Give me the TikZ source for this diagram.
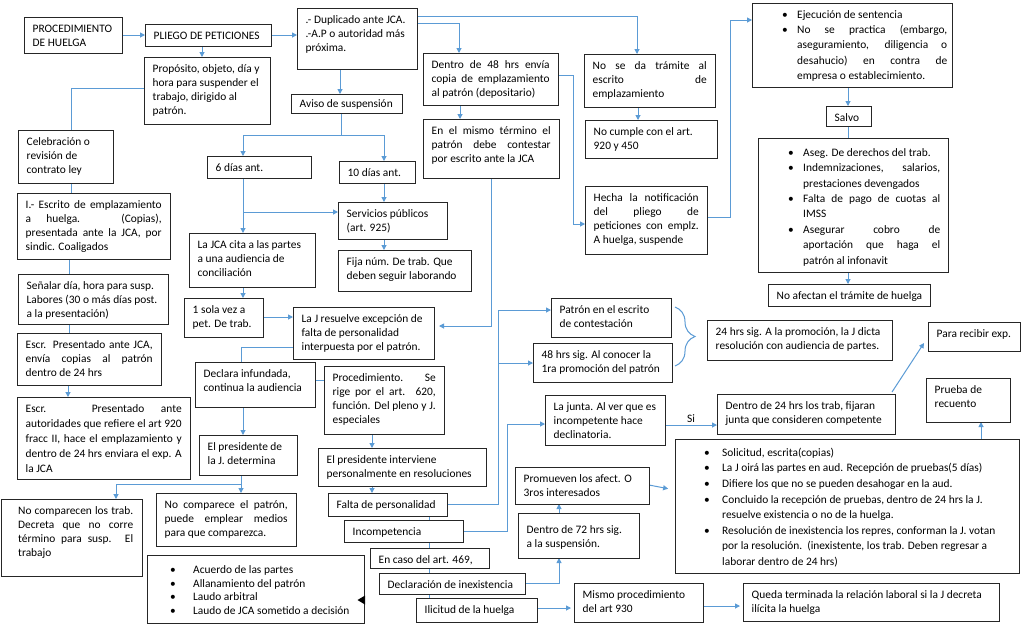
\documentclass[tikz,border=0pt]{standalone}
\usepackage{fontspec}
\setmainfont{Carlito}
\usetikzlibrary{arrows.meta,fit,calc,decorations.pathreplacing}
\definecolor{lnc}{HTML}{5B9BD5}
\definecolor{bxc}{HTML}{262626}
\pgfdeclarelayer{bg}
\pgfsetlayers{bg,main}
\newcommand\jus[1]{\makebox[\tw pt][s]{#1}}
\newcommand\blt{\makebox[15pt][l]{•}}
\newcommand\bxx[7][]{%
  \node[bxs,fit={(#3,#4)(#5,#6)}] (#2) {};
  \pgfmathsetmacro\tw{#5-#3-17}%
  \node[txs,#1] at (#3,#4) {\rule{0pt}{11pt}#7};}
\begin{document}
\begin{tikzpicture}[x=1pt,y=-1pt,
  bxs/.style={draw=bxc,line width=1pt,fill=white,inner sep=0pt,outer sep=0pt,rectangle},
  txs/.style={anchor=north west,inner xsep=8.5pt,inner ysep=4pt,align=left,text=black,font=\fontsize{11.4}{14.2}\selectfont},
  ln/.style={draw=lnc,line width=1pt},
  arr/.style={ln,-{Triangle[length=5pt,width=5pt]}},
  tw/.code={\def\tw{#1}}]
\useasboundingbox (0,0) rectangle (1024,625);
\begin{pgfonlayer}{bg}
\fill[white] (0,0) rectangle (1024,625);
\end{pgfonlayer}

% ---------------- boxes ----------------
\bxx{proc}{24}{17}{122}{53}{PROCEDIMIENTO\\DE HUELGA}
\bxx{pliego}{145}{24}{271}{46}{PLIEGO DE PETICIONES}
\bxx{prop}{144}{57}{270}{124}{Propósito, objeto, día y\\hora para suspender el\\trabajo, dirigido al\\patrón.}
\bxx{dup}{297}{8}{417}{69}{.- Duplicado ante JCA.\\.-A.P o autoridad más\\próxima.}
\bxx[yshift=1.5pt]{aviso}{291}{94}{402}{113}{Aviso de suspensión}
\bxx{celeb}{18}{130}{113}{183}{Celebración o\\revisión de\\contrato ley}
\bxx{esc1}{17}{193}{170}{259}{\jus{I.- Escrito de emplazamiento}\\\jus{a huelga. (Copias),}\\\jus{presentada ante la JCA, por}\\sindic. Coaligados}
\bxx{senal}{18}{274}{168}{324}{Señalar día, hora para susp.\\Labores (30 o más días post.\\a la presentación)}
\bxx{escr2}{17}{333}{161}{385}{\jus{Escr. Presentado ante JCA,}\\\jus{envía copias al patrón}\\dentro de 24 hrs}
\bxx[font=\fontsize{11.4}{15}\selectfont]{escr3}{17}{397}{190}{479}{\jus{Escr. Presentado ante}\\\jus{autoridades que refiere el art 920}\\\jus{fracc II, hace el emplazamiento y}\\\jus{dentro de 24 hrs enviara el exp. A}\\la JCA}
\bxx{seis}{207}{156}{311}{178}{6 días ant.}
\bxx{diez}{339}{161}{415}{183}{10 días ant.}
\bxx{serv}{338}{202}{447}{239}{Servicios públicos\\(art. 925)}
\bxx{fija}{338}{250}{471}{291}{Fija núm. De trab. Que\\deben seguir laborando}
\bxx{cita}{189}{233}{315}{287}{La JCA cita a las partes\\a una audiencia de\\conciliación}
\bxx{sola}{184}{298}{263}{337}{1 sola vez a\\pet. De trab.}
\bxx{resuel}{293}{307}{434}{359}{La J resuelve excepción de\\falta de personalidad\\interpuesta por el patrón.}
\bxx{declara}{195}{362}{315}{407}{Declara infundada,\\continua la audiencia}
\bxx{proced}{324}{366}{444}{434}{\jus{Procedimiento. Se}\\\jus{rige por el art. 620,}\\\jus{función. Del pleno y J.}\\especiales}
\bxx{presJ}{199}{435}{297}{475}{El presidente de\\la J. determina}
\bxx[xshift=8.5pt,tw=115]{nocomtrab}{1}{499}{142}{576}{\jus{No comparecen los trab.}\\\jus{Decreta que no corre}\\\jus{término para susp. El}\\trabajo}
\bxx{nocompat}{156}{493}{296}{546}{\jus{No comparece el patrón,}\\\jus{puede emplear medios}\\para que comparezca.}
\bxx{presint}{318}{448}{486}{486}{El presidente interviene\\personalmente en resoluciones}
\bxx{falta}{328}{493}{447}{516}{Falta de personalidad}
\bxx{incomp}{344}{520}{463}{542}{Incompetencia}
\bxx{encaso}{370}{548}{489}{568}{En caso del art. 469,}
\bxx{declin}{379}{573}{525}{594}{Declaración de inexistencia}
\bxx{ilic}{416}{598}{537}{622}{Ilicitud de la huelga}
\bxx{dentro48}{423}{53}{558}{105}{\jus{Dentro de 48 hrs envía}\\\jus{copia de emplazamiento}\\al patrón (depositario)}
\bxx{mismo}{423}{119}{559}{178}{\jus{En el mismo término el}\\\jus{patrón debe contestar}\\por escrito ante la JCA}
\bxx{nose}{584}{54}{715}{107}{\jus{No se da trámite al}\\\jus{escrito de}\\emplazamiento}
\bxx{nocumple}{585}{120}{717}{158}{No cumple con el art.\\920 y 450}
\bxx{hecha}{585}{186}{707}{254}{\jus{Hecha la notificación}\\\jus{del pliego de}\\\jus{peticiones con emplz.}\\A huelga, suspende}
\bxx{salvo}{826}{106}{871}{126}{Salvo}
\bxx{noafect}{768}{284}{930}{306}{No afectan el trámite de huelga}
\bxx{patron}{551}{298}{671}{337}{Patrón en el escrito\\de contestación}
\bxx{h48}{533}{343}{672}{382}{48 hrs sig. Al conocer la\\1ra promoción del patrón}
\bxx{h24}{707}{320}{892}{360}{24 hrs sig. A la promoción, la J dicta\\resolución con audiencia de partes.}
\bxx{recibir}{928}{322}{1020}{351}{Para recibir exp.}
\bxx{junta}{545}{395}{665}{445}{La junta. Al ver que es\\incompetente hace\\declinatoria.}
\bxx{d24}{717}{394}{895}{434}{Dentro de 24 hrs los trab, fijaran\\junta que consideren competente}
\bxx{prueba}{926}{378}{1010}{422}{Prueba de\\recuento}
\bxx{promueven}{515}{467}{649}{504}{Promueven los afect. O\\3ros interesados}
\bxx[yshift=-5pt]{d72}{518}{513}{639}{558}{Dentro de 72 hrs sig.\\a la suspensión.}
\bxx{mismop}{574}{583}{703}{622}{Mismo procedimiento\\del art 930}
\bxx{queda}{743}{583}{999}{621}{Queda terminada la relación laboral si la J decreta\\ilícita la huelga}

% bullet boxes
\node[bxs,fit={(752,3)(952,87)}] (ejec) {};
\node[txs,font=\fontsize{11.4}{15.3}\selectfont] at (773.5,3) {\rule{0pt}{11pt}\blt Ejecución de sentencia\\
\blt\makebox[150pt][s]{No se practica (embargo,}\\
\hspace*{15pt}\makebox[150pt][s]{aseguramiento, diligencia o}\\
\hspace*{15pt}\makebox[150pt][s]{desahucio) en contra de}\\
\hspace*{15pt}empresa o establecimiento.};

\node[bxs,fit={(758,138)(948,272)}] (aseg) {};
\node[txs,font=\fontsize{11.4}{15.4}\selectfont] at (779.5,141) {\rule{0pt}{11pt}\blt Aseg. De derechos del trab.\\
\blt\makebox[137pt][s]{Indemnizaciones, salarios,}\\
\hspace*{15pt}prestaciones devengados\\
\blt\makebox[137pt][s]{Falta de pago de cuotas al}\\
\hspace*{15pt}IMSS\\
\blt\makebox[137pt][s]{Asegurar cobro de}\\
\hspace*{15pt}\makebox[137pt][s]{aportación que haga el}\\
\hspace*{15pt}patrón al infonavit};

\node[bxs,fit={(675,439)(1019,573)}] (big) {};
\node[txs,font=\fontsize{11.4}{15.6}\selectfont] at (695.5,441) {\rule{0pt}{11pt}\makebox[18pt][l]{•}Solicitud, escrita(copias)\\
\makebox[18pt][l]{•}La J oirá las partes en aud. Recepción de pruebas(5 días)\\
\makebox[18pt][l]{•}Difiere los que no se pueden desahogar en la aud.\\
\makebox[18pt][l]{•}Concluido la recepción de pruebas, dentro de 24 hrs la J.\\
\hspace*{18pt}resuelve existencia o no de la huelga.\\
\makebox[18pt][l]{•}Resolución de inexistencia los repres, conforman la J. votan\\
\hspace*{18pt}por la resolución.\ \ (inexistente, los trab. Deben regresar a\\
\hspace*{18pt}laborar dentro de 24 hrs)};

\node[bxs,fit={(147,555)(364,623)}] (acuerdo) {};
\node[txs,font=\fontsize{11.4}{13.8}\selectfont] at (161.5,558) {\rule{0pt}{11pt}\makebox[23pt][l]{•}Acuerdo de las partes\\
\makebox[23pt][l]{•}Allanamiento del patrón\\
\makebox[23pt][l]{•}Laudo arbitral\\
\makebox[23pt][l]{•}Laudo de JCA sometido a decisión};
\fill[black] (365,595.5) -- (365,604.5) -- (357.5,600) -- cycle;

% ---------------- connectors ----------------
\begin{pgfonlayer}{bg}
\draw[arr] (proc.east) -- (proc.east -| pliego.west);
\draw[arr] (202,0 |- pliego.south) -- (202,0 |- prop.north);
\draw[arr] (pliego.east) -- (pliego.east -| dup.west);
\draw[ln] (prop.west |- 0,88) -| (71,0 |- celeb.north);
\draw[ln] (71,0 |- celeb.south) -- (71,0 |- esc1.north);
\draw[ln] (69,0 |- esc1.south) -- (69,0 |- senal.north);
\draw[ln] (69,0 |- senal.south) -- (69,0 |- escr2.north);
\draw[arr] (68,0 |- escr2.south) -- (68,0 |- escr3.north);
\draw[arr] (340,0 |- dup.south) -- (340,0 |- aviso.north);
\draw[ln] (341,0 |- aviso.south) -- (341,135);
\draw[arr] (341,135) -| (243,0 |- seis.north);
\draw[arr] (341,135) -| (384,0 |- diez.north);
\draw[arr] (243,0 |- seis.south) -- (243,0 |- cita.north);
\draw[arr] (243,212) -- (243,212 -| serv.west);
\draw[arr] (384,0 |- diez.south) -- (384,0 |- serv.north);
\draw[arr] (384,0 |- serv.south) -- (384,0 |- fija.north);
\draw[arr] (243,0 |- cita.south) -- (243,0 |- sola.north);
\draw[arr] (sola.east |- 0,317) -- (resuel.west |- 0,317);
\draw[ln] (resuel.west |- 0,347) -| (241,0 |- declara.north);
\draw[ln] (declara.east |- 0,380) -- (proced.west |- 0,380);
\draw[arr] (243,0 |- declara.south) -- (243,0 |- presJ.north);
\draw[ln] (241,0 |- presJ.south) -- (241,484);
\draw[arr] (241,484) -| (116,0 |- nocomtrab.north);
\draw[arr] (241,484) -- (241,0 |- nocompat.north);
\draw[arr] (372,0 |- proced.south) -- (372,0 |- presint.north);
\draw[arr] (372,0 |- presint.south) -- (372,0 |- falta.north);
\draw[ln] (429,0 |- falta.south) -- (429,0 |- ilic.north);
\draw[arr] (falta.east) -| (498,310) -- (498,310 -| patron.west);
\draw[arr] (498,363) -- (498,363 -| h48.west);
\draw[arr] (incomp.east) -| (507,424) -- (507,424 -| junta.west);
\draw[arr] (declin.east) -| (559,0 |- d72.south);
\draw[arr] (559,0 |- d72.north) -- (559,0 |- promueven.south);
\draw[arr,shorten >=7pt] (promueven.east |- 0,485) -- (big.west |- 0,490);
\draw[arr,shorten >=3pt] (ilic.east |- 0,608) -- (mismop.west |- 0,608);
\draw[arr,shorten >=3pt,shorten <=-1pt] (mismop.east |- 0,606) -- (queda.west |- 0,606);
\draw[arr] (junta.east |- 0,425) -- node[above=-1pt,font=\fontsize{11.4}{14}\selectfont,text=black] {Si} (d24.west |- 0,425);
\draw[arr] ($(d24.north east)+(-3,-2)$) -- ($(recibir.south west)+(-4,-8)$);
\draw[arr] (981,0 |- big.north) -- (981,0 |- prueba.south);
\draw[arr] (dup.east |- 0,16) -| (637,0 |- nose.north);
\draw[arr] (dup.east |- 0,23) -| (459,0 |- dentro48.north);
\draw[arr] (460,0 |- dentro48.south) -- (460,0 |- mismo.north);
\draw[arr,shorten >=5pt] (491,0 |- mismo.south) |- (resuel.east |- 0,326);
\draw[arr] (dentro48.east |- 0,75) -| (573,224) -- (573,224 -| hecha.west);
\draw[arr] (638,0 |- nose.south) -- (638,0 |- nocumple.north);
\draw[arr] (hecha.east |- 0,217) -| (730,20) -- (730,20 -| ejec.west);
\draw[arr] (848,0 |- ejec.south) -- (848,0 |- salvo.north);
\draw[ln] (848,0 |- salvo.south) -- (848,0 |- aseg.north);
\draw[arr] (848,0 |- aseg.south) -- (848,0 |- noafect.north);
\end{pgfonlayer}
\draw[lnc,line width=1pt,decorate,decoration={brace,amplitude=20pt}] (675,307) -- (675,366);
\end{tikzpicture}
\end{document}
